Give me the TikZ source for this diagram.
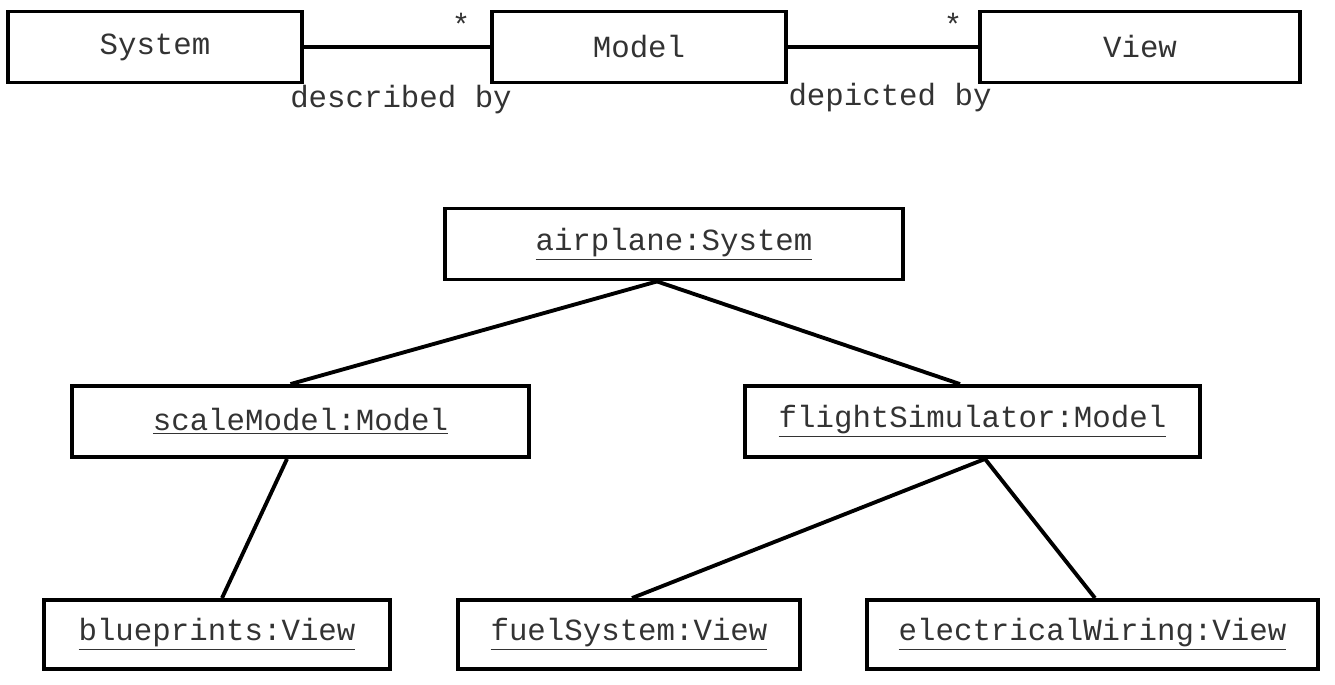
\documentclass[tikz,border=0pt]{standalone}
\usepackage{fontspec}
\setmonofont{Liberation Mono}
\begin{document}
\begin{tikzpicture}[line width=2.2pt,
  obj/.style={draw, minimum height=1.42cm, inner sep=0pt, font=\ttfamily\fontsize{17.5}{20}\selectfont, text=black!80},
  lbl/.style={font=\ttfamily\fontsize{17.5}{20}\selectfont, text=black!80, inner sep=0pt}]
\useasboundingbox (0,0) rectangle (26.7,-13.68);
% class level
\node[obj, minimum width=5.88cm] (Sys) at (3.1,-0.94) {System};
\node[obj, minimum width=5.88cm] (Mod) at (12.78,-0.94) {Model};
\node[obj, minimum width=6.4cm] (Vw) at (22.8,-0.94) {View};
\draw (Sys) -- (Mod);
\draw (Mod) -- (Vw);
\node[lbl] (st1) at (9.22,-0.48) {*};
\node[lbl] (st2) at (19.06,-0.48) {*};
\node[lbl] (desc) at (8.02,-2.0) {described by};
\node[lbl] (dep) at (17.8,-1.96) {depicted by};
% instance level
\node[obj, minimum width=9.16cm] (air) at (13.48,-4.88) {\underline{airplane:System}};
\node[obj, minimum width=9.14cm] (scale) at (6.01,-8.43) {\underline{scaleModel:Model}};
\node[obj, minimum width=9.1cm] (flight) at (19.45,-8.43) {\underline{flightSimulator:Model}};
\node[obj, minimum width=6.92cm, minimum height=1.38cm] (blue) at (4.34,-12.69) {\underline{blueprints:View}};
\node[obj, minimum width=6.84cm, minimum height=1.38cm] (fuel) at (12.58,-12.69) {\underline{fuelSystem:View}};
\node[obj, minimum width=9.02cm, minimum height=1.38cm] (elec) at (21.85,-12.69) {\underline{electricalWiring:View}};
\draw ([xshift=-0.34cm]air.south) -- ([xshift=-0.2cm]scale.north);
\draw ([xshift=-0.34cm]air.south) -- ([xshift=-0.25cm]flight.north);
\draw ([xshift=-0.27cm]scale.south) -- ([xshift=0.1cm]blue.north);
\draw ([xshift=0.25cm]flight.south) -- ([xshift=0.06cm]fuel.north);
\draw ([xshift=0.25cm]flight.south) -- ([xshift=0.05cm]elec.north);
\end{tikzpicture}
\end{document}
